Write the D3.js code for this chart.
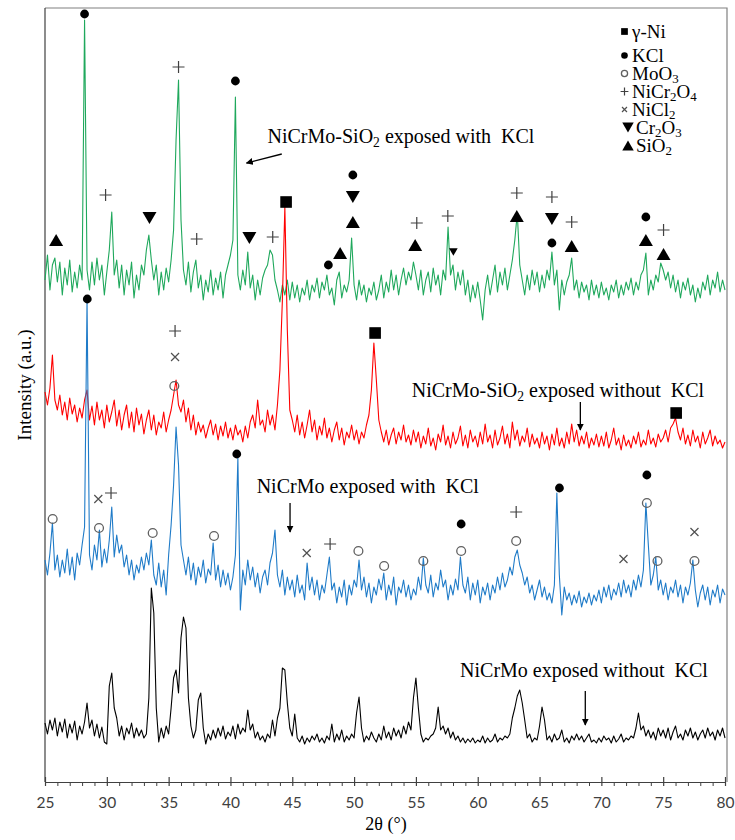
<!DOCTYPE html>
<html><head><meta charset="utf-8">
<script src="https://cdn.jsdelivr.net/npm/d3@7"></script>
<style>body{margin:0;background:#fff} text{white-space:pre}</style>
</head><body>
<svg id="c" width="735" height="840"></svg>
<script>
// 2θ grid: 25.0 → 80.0, step 0.2°
const twoThetaStart = 25, twoThetaStep = 0.2;
const xTicksMajor = [25,30,35,40,45,50,55,60,65,70,75,80];

// NiCrMo exposed without KCl (black)
const blackValues = [
 25,14,28,18,30,12,26,16,29,10,24,15,27,8,22,14,26,45,20,28,12,24,10,21,6,
 4,62,75,40,30,12,22,8,20,14,25,10,20,12,18,10,14,50,160,135,40,6,20,10,22,
 14,40,70,78,55,110,131,120,50,22,10,18,48,55,20,4,14,8,18,10,20,12,22,9,16,
 12,22,9,24,14,20,16,38,18,24,10,16,8,12,6,14,10,28,12,30,40,80,78,45,20,
 12,34,10,6,12,4,10,6,12,8,14,6,10,5,12,8,24,6,14,8,18,6,12,8,14,
 10,35,51,20,6,12,8,16,10,6,14,8,22,10,16,8,20,12,18,10,22,14,26,18,50,
 70,40,14,6,10,8,12,14,20,41,18,22,14,20,10,16,8,12,6,10,5,9,6,10,5,
 8,6,12,5,10,6,8,14,6,10,8,12,10,14,30,40,52,58,45,28,10,14,6,10,8,
 22,41,28,8,12,6,14,8,10,18,6,10,5,12,8,14,8,12,6,10,14,6,8,5,10,
 6,12,8,10,5,12,6,9,14,6,10,8,12,10,20,35,18,22,12,18,10,16,8,20,12,
 18,10,20,8,16,22,10,14,8,18,12,20,10,16,8,14,18,10,20,12,16,8,18,12,20,10
];
// NiCrMo exposed with KCl (blue)
const blueValues = [
 55,40,62,92,45,60,38,55,42,66,40,58,35,62,50,70,88,315,60,45,70,55,85,48,66,
 52,75,108,58,80,62,70,48,60,40,55,35,50,42,58,45,62,50,75,40,30,52,28,45,20,
 60,90,130,188,150,70,55,40,58,35,52,30,48,38,55,32,46,40,72,35,50,28,45,30,42,
 25,38,60,157,5,45,30,55,35,48,28,42,22,38,45,30,52,62,85,40,28,45,20,38,25,
 35,18,40,22,30,15,52,25,38,20,35,15,30,22,40,58,25,32,12,28,18,35,10,30,20,
 35,28,55,25,38,18,32,12,28,20,36,25,42,15,30,20,38,10,28,22,35,18,30,15,26,
 20,38,25,57,30,22,40,18,32,25,45,28,35,15,30,20,36,25,58,30,22,38,15,32,20,
 35,12,28,20,32,15,30,22,38,25,42,28,35,48,40,58,65,50,42,30,38,22,30,15,25,
 35,18,28,15,22,12,30,122,40,0,28,15,22,10,20,12,24,8,18,12,22,10,20,14,25,
 12,28,18,30,15,26,20,32,18,35,22,30,18,35,25,40,28,45,112,70,30,40,58,25,35,
 20,32,15,28,22,35,18,30,12,28,20,32,55,25,8,22,30,15,28,10,25,18,30,12,26,20
];
// NiCrMo-SiO2 exposed without KCl (red)
const redValues = [
 58,45,62,95,50,40,55,35,48,30,52,36,45,28,42,32,50,60,30,44,25,48,30,40,22,
 45,28,38,50,24,40,20,35,45,22,38,18,42,25,36,16,30,40,20,35,15,28,22,38,18,
 30,40,55,70,45,38,50,28,42,20,35,15,28,18,25,12,22,30,15,26,10,24,14,28,12,
 22,10,25,15,20,8,24,12,28,35,22,50,25,30,18,40,25,35,20,45,80,150,243,120,40,
 30,18,35,15,28,12,25,40,18,30,10,24,15,32,12,22,8,20,28,10,22,5,18,12,25,
 10,20,6,18,12,25,35,60,107,70,30,18,8,20,5,15,22,6,18,10,25,8,15,5,20,
 8,18,2,14,6,22,4,12,0,16,8,25,5,14,2,18,6,12,24,4,15,2,20,8,14,
 3,18,6,26,8,15,2,20,5,12,24,6,16,2,28,10,20,4,14,8,22,3,16,6,12,
 2,18,6,14,0,16,5,22,4,12,2,18,6,26,8,20,4,14,6,18,2,12,5,16,3,
 14,4,18,2,10,22,5,12,0,15,4,10,2,14,6,18,3,10,5,20,6,12,3,16,8,
 12,20,8,22,26,32,18,10,22,6,15,4,20,8,14,2,18,6,12,20,4,14,6,10,2,8
];
// NiCrMo-SiO2 exposed with KCl (green)
const greenValues = [
 30,55,20,45,52,28,48,15,42,25,50,18,38,22,45,30,290,40,20,48,25,52,30,45,15,
 38,60,98,35,50,22,45,15,40,25,48,12,35,20,45,35,60,75,50,30,45,15,38,20,42,
 28,50,80,170,230,90,40,25,48,18,38,50,22,35,10,30,18,40,15,32,20,38,12,35,45,
 55,70,213,35,20,40,25,58,22,35,10,30,15,32,40,45,60,55,30,20,8,25,15,30,10,
 28,12,25,8,22,15,30,10,25,18,32,12,28,20,35,15,22,5,30,38,12,25,18,30,72,
 25,10,30,15,25,8,22,15,28,10,20,35,12,28,18,40,20,35,15,30,42,25,38,30,48,
 35,20,40,15,30,38,18,42,25,35,15,40,30,83,35,45,20,38,25,40,15,30,8,25,12,
 28,10,-10,20,35,15,30,45,18,38,25,42,20,35,50,70,97,45,30,15,35,20,40,25,38,
 18,35,22,40,30,58,25,40,0,30,15,28,35,52,20,30,12,28,18,25,10,30,15,25,12,
 28,15,22,10,25,18,30,12,25,15,28,20,32,15,28,20,35,40,57,15,30,20,35,28,47,
 40,30,38,22,35,18,30,12,28,20,32,15,25,8,22,12,28,20,35,15,30,22,38,18,30,20
];

// vertical stacking offsets (a.u.)
const seriesKeys   = ['green','red','blue','black'];
const seriesData   = {green: greenValues, red: redValues, blue: blueValues, black: blackValues};
const seriesOffset = {green: 472, red: 332, blue: 167, black: 34};
const seriesColor  = {green: '#1fa85c', red: '#ff0000', blue: '#1f7bc8', black: '#000000'};

// phase markers: [symbol, 2θ, intensity level (a.u.)]
const phaseMarkers = [
 ['up',25.9,542],['dot',28.2,768],['plus',29.9,587],['down',33.45,564],['plus',35.8,715],
 ['plus',37.27,543],['dot',40.4,701],['down',41.53,544],['plus',43.42,545],['square',44.5,580],
 ['dot',47.92,517],['up',48.87,529],['dot',49.9,607],['down',49.9,585],['up',49.9,560],
 ['plus',55.07,559],['up',54.94,537],['plus',57.58,566],['downS',58.03,530],['plus',63.16,589],
 ['up',63.16,566],['plus',66.0,585],['down',66.0,563],['dot',66.0,539],['plus',67.6,560],
 ['up',67.6,536],['dot',73.6,565],['up',73.6,542],['plus',75.03,552],['up',75.03,528],
 ['plus',35.52,451],['cross',35.52,425],['circle',35.46,396],['square',51.7,449],['square',76.05,369],
 ['dot',28.42,483],['circle',25.62,263],['cross',29.31,283],['plus',30.34,289],['circle',29.37,254],
 ['circle',33.71,249],['dot',40.51,328],['circle',38.67,246],['cross',46.17,229],['plus',48.06,238],
 ['circle',50.35,231],['circle',52.43,216],['circle',55.6,221],['dot',58.66,258],['circle',58.66,231],
 ['plus',63.11,270],['circle',63.11,241],['dot',66.61,294],['cross',71.79,223],['dot',73.68,307],
 ['circle',73.68,279],['circle',74.54,221],['cross',77.53,250],['circle',77.53,221]
];

// legend entries: symbol + label parts ([text, subscript?])
const legendItems = [
 ['square', [['γ-Ni',0]]],
 ['dot',    [['KCl',0]]],
 ['circle', [['MoO',0],['3',1]]],
 ['plus',   [['NiCr',0],['2',1],['O',0],['4',1]]],
 ['cross',  [['NiCl',0],['2',1]]],
 ['down',   [['Cr',0],['2',1],['O',0],['3',1]]],
 ['up',     [['SiO',0],['2',1]]]
];

// curve labels: parts, text start (2θ, a.u.), arrow [2θ1,a.u.1,2θ2,a.u.2]
const curveLabels = [
 {parts:[['NiCrMo-SiO',0],['2',1],[' exposed with  KCl',0]], at:[43.0,639], arrow:[44.15,628,41.3,619]},
 {parts:[['NiCrMo-SiO',0],['2',1],[' exposed without  KCl',0]], at:[54.66,385], arrow:[68.3,380,68.3,352]},
 {parts:[['NiCrMo exposed with  KCl',0]], at:[42.12,289], arrow:[44.82,279,44.82,250]},
 {parts:[['NiCrMo exposed without  KCl',0]], at:[58.57,105], arrow:[68.7,91,68.7,57]}
];

const svg = d3.select('#c');
const x = d3.scaleLinear().domain([25,80]).range([45,725]);
const y = d3.scaleLinear().domain([0,774]).range([782,8]);

svg.append('defs').append('marker')
  .attr('id','ah').attr('viewBox','0 0 10 10').attr('refX',9).attr('refY',5)
  .attr('markerWidth',7).attr('markerHeight',7).attr('markerUnits','userSpaceOnUse')
  .attr('orient','auto')
  .append('path').attr('d','M0,0 L10,5 L0,10 z').attr('fill','#000');

// frame
svg.append('path').attr('d',`M45,8 H727 V782`).attr('fill','none').attr('stroke','#808080').attr('stroke-width',1.2);
svg.append('line').attr('x1',45).attr('x2',45).attr('y1',8).attr('y2',782).attr('stroke','#404040').attr('stroke-width',1.2);

// x axis
const minorTicks = d3.range(25,81,1).filter(v=>v%5!==0);
svg.append('g').attr('transform','translate(0,782)')
  .call(d3.axisBottom(x).tickValues(minorTicks).tickFormat('').tickSizeInner(4).tickSizeOuter(0))
  .call(g=>g.select('.domain').remove())
  .call(g=>g.selectAll('line').attr('stroke','#404040').attr('stroke-width',1));
const xa = svg.append('g').attr('transform','translate(0,782)')
  .call(d3.axisBottom(x).tickValues(xTicksMajor).tickFormat(d3.format('d')).tickSizeInner(4).tickSizeOuter(0).tickPadding(11));
xa.select('.domain').attr('stroke','#404040').attr('stroke-width',1.2);
xa.selectAll('.tick line').attr('y1',-5).attr('stroke','#404040').attr('stroke-width',1.2);
xa.selectAll('.tick text').attr('font-family','Lato, "Liberation Sans", sans-serif').attr('font-size',15.5).attr('fill','#404040');

// traces
const line = off => d3.line()
  .x((d,i)=>x(twoThetaStart + i*twoThetaStep))
  .y(d=>y(d + off));
seriesKeys.forEach(k=>{
  svg.append('path').datum(seriesData[k])
    .attr('d', line(seriesOffset[k]))
    .attr('fill','none').attr('stroke',seriesColor[k])
    .attr('stroke-width',1.1).attr('stroke-linejoin','round');
});

// symbols
function sym(g, type, cx, cy, s){
  if(type==='square') g.append('rect').attr('x',cx-5.8*s).attr('y',cy-5.8*s).attr('width',11.6*s).attr('height',11.6*s).attr('fill','#000');
  else if(type==='dot') g.append('circle').attr('cx',cx).attr('cy',cy).attr('r',4.4*s).attr('fill','#000');
  else if(type==='circle') g.append('circle').attr('cx',cx).attr('cy',cy).attr('r',4.4*s).attr('fill','none').attr('stroke','#606060').attr('stroke-width',1.3);
  else if(type==='plus') g.append('path').attr('d',`M${cx-6*s},${cy}H${cx+6*s}M${cx},${cy-6*s}V${cy+6*s}`).attr('stroke','#404040').attr('stroke-width',1.2);
  else if(type==='cross') g.append('path').attr('d',`M${cx-4*s},${cy-4*s}L${cx+4*s},${cy+4*s}M${cx+4*s},${cy-4*s}L${cx-4*s},${cy+4*s}`).attr('stroke','#505050').attr('stroke-width',1.2);
  else if(type==='up') g.append('path').attr('d',`M${cx},${cy-6*s}L${cx+7*s},${cy+6*s}L${cx-7*s},${cy+6*s}Z`).attr('fill','#000');
  else if(type==='down'||type==='downS'){ const t = type==='downS'?0.62*s:s;
    g.append('path').attr('d',`M${cx-7*t},${cy-6*t}L${cx+7*t},${cy-6*t}L${cx},${cy+6*t}Z`).attr('fill','#000'); }
}
const mg = svg.append('g');
phaseMarkers.forEach(([t,tt,lv])=>sym(mg,t,x(tt),y(lv),1));

// rich text helper
function rich(g, px, py, parts, size){
  const t = g.append('text').attr('x',px).attr('y',py)
    .attr('font-family','"Liberation Serif", "Times New Roman", serif').attr('font-size',size).attr('fill','#000');
  let sub=false;
  parts.forEach(([s,isSub])=>{
    const ts = t.append('tspan').text(s);
    if(isSub && !sub){ ts.attr('dy',size*0.18).attr('font-size',size*0.68); sub=true; }
    else if(isSub){ ts.attr('font-size',size*0.68); }
    else if(!isSub && sub){ ts.attr('dy',-size*0.18); sub=false; }
  });
  return t;
}

// legend
const lg = svg.append('g');
legendItems.forEach(([t,parts],i)=>{
  const by = i===0 ? 38 : 44 + 18*i;
  const tri = (t==='up'||t==='down');
  const sc = {square:0.58,dot:0.75,circle:0.7,plus:0.65,cross:0.62,up:0.82,down:0.82}[t];
  sym(lg, t, tri?628:624.5, by-6.5, sc);
  rich(lg, tri?636:632, by, parts, 19);
});

// curve labels + arrows
const ag = svg.append('g');
curveLabels.forEach(c=>{
  rich(ag, x(c.at[0]), y(c.at[1]), c.parts, 20);
  ag.append('line').attr('x1',x(c.arrow[0])).attr('y1',y(c.arrow[1]))
    .attr('x2',x(c.arrow[2])).attr('y2',y(c.arrow[3]))
    .attr('stroke','#000').attr('stroke-width',1.3).attr('marker-end','url(#ah)');
});

// axis titles
svg.append('text').attr('transform','translate(31,385) rotate(-90)').attr('text-anchor','middle')
  .attr('font-family','"Liberation Serif", "Times New Roman", serif').attr('font-size',19).attr('fill','#000')
  .text('Intensity (a.u.)');
svg.append('text').attr('x',386).attr('y',830).attr('text-anchor','middle')
  .attr('font-family','"Liberation Serif", "Times New Roman", serif').attr('font-size',18).attr('fill','#000')
  .text('2θ (°)');
</script>
</body></html>
